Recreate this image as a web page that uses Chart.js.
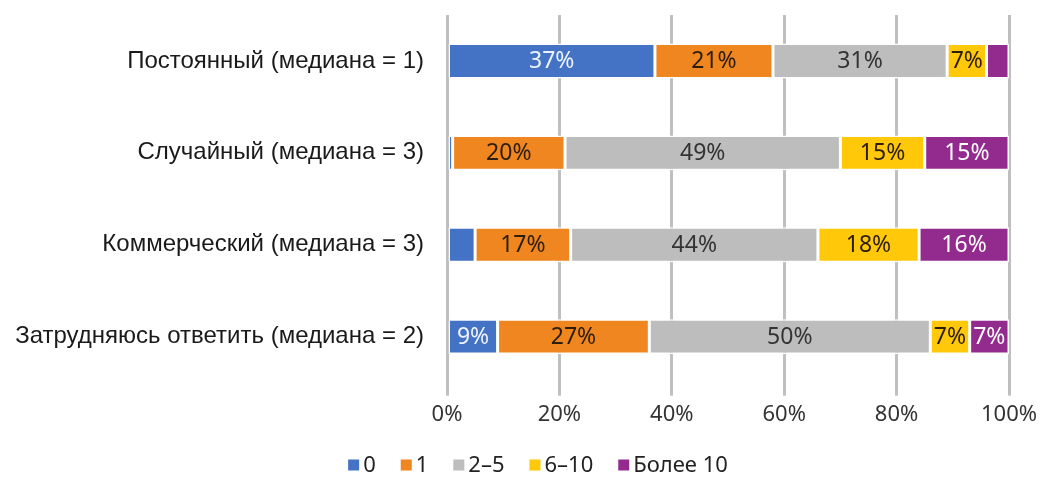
<!DOCTYPE html>
<html>
<head>
<meta charset="utf-8">
<script src="https://cdn.jsdelivr.net/npm/chart.js@4/dist/chart.umd.min.js"></script>
<style>
  html, body { margin: 0; padding: 0; background: #fff; }
  #wrap { width: 1043px; height: 479px; }
</style>
</head>
<body>
<div id="wrap"><canvas id="contacts-chart"></canvas></div>
<script>
const categories = [
    'Постоянный (медиана = 1)',
    'Случайный (медиана = 3)',
    'Коммерческий (медиана = 3)',
    'Затрудняюсь ответить (медиана = 2)'
];
const seriesNames = ['0', '1', '2–5', '6–10', 'Более 10'];

const zero = [37, 1, 5, 9];
const one = [21, 20, 17, 27];
const twoToFive = [31, 49, 44, 50];
const sixToTen = [7, 15, 18, 7];
const overTen = [4, 15, 16, 7];

const xTicks = [0, 20, 40, 60, 80, 100];

const colors = ['#4472c4', '#ef861f', '#bdbdbd', '#ffc808', '#932b8f'];
const labelColors = ['#eef3ff', '#2b1d10', '#333333', '#2b1d10', '#ffffff'];

const tickFont = '"Noto Sans", sans-serif';

// percent labels inside the segments, small ones skipped
const segmentLabels = {
    id: 'segmentLabels',
    afterDatasetsDraw(chart) {
        const ctx = chart.ctx;
        ctx.save();
        ctx.font = '23px ' + tickFont;
        ctx.textAlign = 'center';
        ctx.textBaseline = 'middle';
        chart.data.datasets.forEach((ds, i) => {
            const meta = chart.getDatasetMeta(i);
            meta.data.forEach((bar, j) => {
                const v = ds.data[j];
                if (v < 7) return;
                ctx.fillStyle = labelColors[i];
                ctx.fillText(v + '%', (bar.x + bar.base) / 2, bar.y + 1);
            });
        });
        ctx.restore();
    }
};

// compact legend row under the axis: small square, short gap, label
const bottomLegend = {
    id: 'bottomLegend',
    afterDraw(chart) {
        const ctx = chart.ctx;
        const box = 11, gap = 4, spacing = 25;
        ctx.save();
        ctx.font = '22px ' + tickFont;
        ctx.textBaseline = 'middle';
        const widths = seriesNames.map(n => box + gap + ctx.measureText(n).width);
        const total = widths.reduce((a, b) => a + b, 0) + spacing * (widths.length - 1);
        let x = 538 - total / 2;
        const y = chart.height - 14;
        seriesNames.forEach((n, i) => {
            ctx.fillStyle = colors[i];
            ctx.fillRect(x, y - box / 2, box, box);
            ctx.fillStyle = '#222';
            ctx.fillText(n, x + box + gap, y + 1);
            x += widths[i] + spacing;
        });
        ctx.restore();
    }
};

const seriesData = [zero, one, twoToFive, sixToTen, overTen];

new Chart(document.getElementById('contacts-chart').getContext('2d'), {
    type: 'bar',
    data: {
        labels: categories,
        datasets: seriesData.map((d, i) => ({
            label: seriesNames[i],
            data: d,
            backgroundColor: colors[i],
            borderColor: '#ffffff',
            borderWidth: 1.5,
            borderSkipped: false,
            categoryPercentage: 1,
            barPercentage: 0.38
        }))
    },
    options: {
        indexAxis: 'y',
        responsive: true,
        maintainAspectRatio: false,
        animation: false,
        layout: { padding: { left: 0, right: 34, top: 15, bottom: 45 } },
        plugins: {
            legend: { display: false },
            tooltip: { enabled: false }
        },
        scales: {
            x: {
                stacked: true,
                min: 0,
                max: 100,
                afterBuildTicks: s => { s.ticks = xTicks.map(v => ({ value: v })); },
                afterFit: s => { s.paddingLeft = 0; s.paddingRight = 0; },
                ticks: {
                    color: '#333',
                    padding: 6,
                    font: { family: tickFont, size: 22 },
                    callback: v => v + '%'
                },
                grid: { color: '#bfbfbf', lineWidth: 3, tickLength: 13 },
                border: { display: false }
            },
            y: {
                stacked: true,
                afterFit: s => { s.width = 447; s.paddingTop = 0; s.paddingBottom = 0; },
                ticks: {
                    color: '#1a1a1a',
                    padding: 23,
                    font: { family: '"Liberation Sans", Arial, sans-serif', size: 24 }
                },
                grid: { display: false, drawTicks: false },
                border: { display: false }
            }
        }
    },
    plugins: [segmentLabels, bottomLegend]
});
</script>
</body>
</html>
